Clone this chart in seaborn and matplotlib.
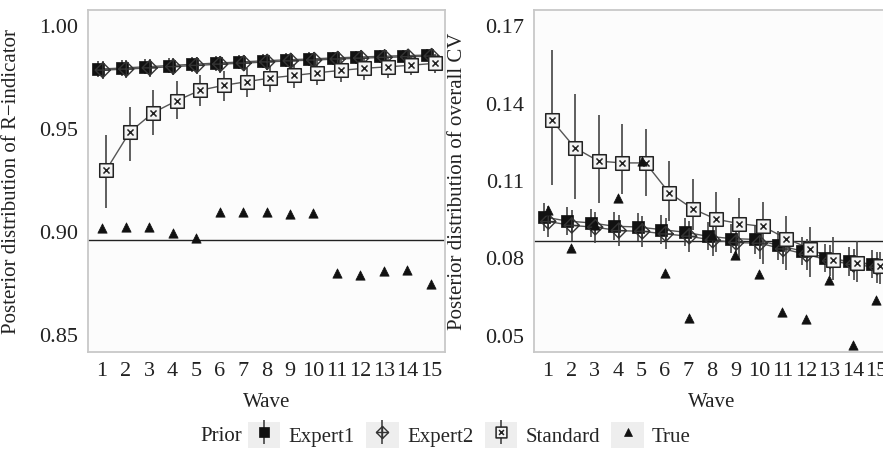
import numpy as np
import pandas as pd
import seaborn as sns
import matplotlib.pyplot as plt
from matplotlib.path import Path
from matplotlib.lines import Line2D
from matplotlib.patches import Patch
from matplotlib.legend_handler import HandlerTuple

# データ
waves = list(range(1, 16))
priors = ["Expert1", "Expert2", "Standard", "True"]

# R-indicator
r_expert1 = [0.9791, 0.9796, 0.9802, 0.9808, 0.9814, 0.9820, 0.9825, 0.9831, 0.9836, 0.9840, 0.9845, 0.9849, 0.9853, 0.9856, 0.9859]
r_expert1_lo = [0.9753, 0.9758, 0.9765, 0.9771, 0.9778, 0.9784, 0.9790, 0.9796, 0.9802, 0.9807, 0.9812, 0.9817, 0.9821, 0.9825, 0.9829]
r_expert1_hi = [0.9829, 0.9833, 0.9838, 0.9843, 0.9849, 0.9854, 0.9858, 0.9864, 0.9868, 0.9872, 0.9876, 0.9879, 0.9883, 0.9886, 0.9888]
r_expert2 = [0.9786, 0.9791, 0.9797, 0.9803, 0.9809, 0.9815, 0.9820, 0.9826, 0.9831, 0.9835, 0.9840, 0.9844, 0.9848, 0.9851, 0.9854]
r_expert2_lo = [0.9742, 0.9748, 0.9755, 0.9761, 0.9768, 0.9774, 0.9780, 0.9787, 0.9793, 0.9798, 0.9803, 0.9808, 0.9813, 0.9817, 0.9821]
r_expert2_hi = [0.9830, 0.9834, 0.9839, 0.9844, 0.9849, 0.9855, 0.9859, 0.9864, 0.9868, 0.9872, 0.9876, 0.9879, 0.9882, 0.9885, 0.9887]
r_standard = [0.9300, 0.9484, 0.9579, 0.9637, 0.9688, 0.9712, 0.9730, 0.9748, 0.9760, 0.9773, 0.9785, 0.9795, 0.9802, 0.9810, 0.9819]
r_standard_lo = [0.9117, 0.9346, 0.9470, 0.9547, 0.9610, 0.9637, 0.9657, 0.9680, 0.9697, 0.9712, 0.9727, 0.9740, 0.9750, 0.9760, 0.9772]
r_standard_hi = [0.9470, 0.9608, 0.9690, 0.9732, 0.9760, 0.9780, 0.9795, 0.9808, 0.9818, 0.9828, 0.9836, 0.9844, 0.9850, 0.9856, 0.9862]
r_true = [0.9020, 0.9026, 0.9026, 0.8995, 0.8972, 0.9096, 0.9096, 0.9096, 0.9086, 0.9090, 0.8800, 0.8792, 0.8808, 0.8815, 0.8745]
r_ref = 0.896

# overall CV
cv_expert1 = [0.0961, 0.0945, 0.0938, 0.0925, 0.0922, 0.0912, 0.0902, 0.0886, 0.0877, 0.0874, 0.0851, 0.0829, 0.0803, 0.0789, 0.0778]
cv_expert1_lo = [0.0906, 0.0890, 0.0883, 0.0870, 0.0867, 0.0857, 0.0847, 0.0831, 0.0822, 0.0819, 0.0796, 0.0774, 0.0748, 0.0734, 0.0723]
cv_expert1_hi = [0.1016, 0.1000, 0.0993, 0.0980, 0.0977, 0.0967, 0.0957, 0.0941, 0.0932, 0.0929, 0.0906, 0.0884, 0.0858, 0.0844, 0.0833]
cv_expert2 = [0.0943, 0.0928, 0.0921, 0.0908, 0.0905, 0.0895, 0.0886, 0.0871, 0.0862, 0.0859, 0.0837, 0.0816, 0.0791, 0.0777, 0.0766]
cv_expert2_lo = [0.0883, 0.0868, 0.0861, 0.0848, 0.0845, 0.0835, 0.0826, 0.0811, 0.0802, 0.0799, 0.0777, 0.0756, 0.0731, 0.0717, 0.0706]
cv_expert2_hi = [0.1003, 0.0988, 0.0981, 0.0968, 0.0965, 0.0955, 0.0946, 0.0931, 0.0922, 0.0919, 0.0897, 0.0876, 0.0851, 0.0837, 0.0826]
cv_standard = [0.1336, 0.1228, 0.1177, 0.1170, 0.1170, 0.1055, 0.0993, 0.0952, 0.0935, 0.0924, 0.0877, 0.0838, 0.0796, 0.0784, 0.0772]
cv_standard_lo = [0.1084, 0.1032, 0.1013, 0.1051, 0.1042, 0.0945, 0.0909, 0.0825, 0.0793, 0.0780, 0.0754, 0.0728, 0.0716, 0.0709, 0.0703]
cv_standard_hi = [0.1607, 0.1435, 0.1355, 0.1320, 0.1300, 0.1177, 0.1107, 0.1056, 0.1036, 0.1020, 0.0965, 0.0922, 0.0883, 0.0868, 0.0825]
cv_true = [0.0987, 0.0841, 0.0930, 0.1035, 0.1178, 0.0745, 0.0571, 0.0890, 0.0812, 0.0741, 0.0593, 0.0567, 0.0716, 0.0467, 0.0638]
cv_ref = 0.0869

# 横方向のずらし (position_dodge 相当)
dodge = {"Expert1": -0.17, "Expert2": 0.03, "Standard": 0.17, "True": 0.0}


def make_frame(series):
    rows = []
    for prior, (vals, lo, hi) in series.items():
        for w, v, l, h in zip(waves, vals, lo, hi):
            rows.append({"Wave": w, "Prior": prior, "value": v, "lo": l, "hi": h})
    df = pd.DataFrame(rows)
    df["xpos"] = df["Wave"] + df["Prior"].map(dodge)
    return df


df_r = make_frame({
    "Expert1": (r_expert1, r_expert1_lo, r_expert1_hi),
    "Expert2": (r_expert2, r_expert2_lo, r_expert2_hi),
    "Standard": (r_standard, r_standard_lo, r_standard_hi),
    "True": (r_true, r_true, r_true),
})
df_cv = make_frame({
    "Expert1": (cv_expert1, cv_expert1_lo, cv_expert1_hi),
    "Expert2": (cv_expert2, cv_expert2_lo, cv_expert2_hi),
    "Standard": (cv_standard, cv_standard_lo, cv_standard_hi),
    "True": (cv_true, cv_true, cv_true),
})

# マーカー (ggplot の shape 15, 9, 7, 17 に近い形)
diamond_plus = Path(
    [(0, 1), (1, 0), (0, -1), (-1, 0), (0, 1), (0, 1), (0, -1), (-1, 0), (1, 0)],
    [Path.MOVETO, Path.LINETO, Path.LINETO, Path.LINETO, Path.CLOSEPOLY,
     Path.MOVETO, Path.LINETO, Path.MOVETO, Path.LINETO],
)
square_cross = Path(
    [(-1, -1), (1, -1), (1, 1), (-1, 1), (-1, -1),
     (-0.45, -0.45), (0.45, 0.45), (-0.45, 0.45), (0.45, -0.45)],
    [Path.MOVETO, Path.LINETO, Path.LINETO, Path.LINETO, Path.CLOSEPOLY,
     Path.MOVETO, Path.LINETO, Path.MOVETO, Path.LINETO],
)
marker_style = {
    "Expert1": dict(marker="s", s=85, color="#111111", edgecolor="#111111", linewidth=0.5),
    "Expert2": dict(marker=diamond_plus, s=120, facecolor="none", edgecolor="#333333", linewidth=1.0),
    "Standard": dict(marker=square_cross, s=95, facecolor="#f4f4f4", edgecolor="#222222", linewidth=1.1),
    "True": dict(marker="^", s=45, color="#111111", edgecolor="#111111", linewidth=0.5),
}

sns.set_style("white")
plt.rcParams["font.family"] = ["Liberation Serif", "DejaVu Serif"]

fig = plt.figure(figsize=(8.83, 4.58), dpi=100)
ax1 = fig.add_axes([88 / 883, 106 / 458, 357 / 883, 342 / 458])
ax2 = fig.add_axes([533.5 / 883, 106 / 458, 357 / 883, 342 / 458])


def draw_panel(ax, df, ref, ylim, yticks, ylabel):
    ax.set_facecolor("#fcfcfc")
    ax.axhline(ref, color="#222222", lw=1.0, zorder=1)
    lines = df[df["Prior"] != "True"]
    sns.lineplot(data=lines, x="xpos", y="value", hue="Prior", units="Prior",
                 estimator=None, palette=["#555555"] * 3, lw=1.0,
                 legend=False, ax=ax, zorder=2)
    ax.vlines(lines["xpos"], lines["lo"], lines["hi"], color="#444444", lw=1.2, zorder=3)
    for prior in priors:
        sub = df[df["Prior"] == prior]
        sns.scatterplot(data=sub, x="xpos", y="value", ax=ax, zorder=4,
                        legend=False, **marker_style[prior])
    ax.set_xlim(0.4, 15.6)
    ax.set_ylim(*ylim)
    ax.set_xticks(waves)
    ax.set_xticklabels([str(w) for w in waves])
    ax.set_yticks(yticks)
    ax.set_yticklabels([f"{t:.2f}" for t in yticks])
    ax.tick_params(axis="both", labelsize=16, length=4, width=1,
                   color="#999999", labelcolor="#222222", pad=3)
    for sp in ax.spines.values():
        sp.set_color("#c8c8c8")
        sp.set_linewidth(1.3)
    ax.set_xlabel("Wave", fontsize=15, color="#222222")
    ax.set_ylabel(ylabel, fontsize=15, color="#222222")
    ax.xaxis.set_label_coords(0.5, -0.12)
    ax.yaxis.set_label_coords(-0.188, 0.5)


draw_panel(ax1, df_r, r_ref, (0.8417, 1.0078), [0.85, 0.90, 0.95, 1.00],
           "Posterior distribution of R\u2212indicator")
draw_panel(ax2, df_cv, cv_ref, (0.0438, 0.1762), [0.05, 0.08, 0.11, 0.14, 0.17],
           "Posterior distribution of overall CV")
ax2.yaxis.set_label_coords(-0.185, 0.5)

# 凡例
handles = []
for prior in priors:
    st = marker_style[prior]
    bg = Patch(facecolor="#eeeeee", edgecolor="none")
    parts = [bg]
    if prior != "True":
        parts.append(Line2D([], [], marker="|", markersize=17, color="#444444",
                            markeredgewidth=1.2, linestyle="none"))
    fc = st.get("facecolor", st.get("color"))
    parts.append(Line2D([], [], marker=st["marker"], linestyle="none",
                        markersize=np.sqrt(st["s"]) * 0.8, markerfacecolor=fc,
                        markeredgecolor=st["edgecolor"], markeredgewidth=st["linewidth"]))
    handles.append(tuple(parts))

fig.text(200 / 883, 0.046, "Prior", fontsize=15, va="center", ha="left", color="#222222")
fig.legend(handles, priors, handler_map={tuple: HandlerTuple(ndivide=1)},
           loc="center left", bbox_to_anchor=(248 / 883, 0.05), ncol=4,
           frameon=False, fontsize=15, handlelength=1.55, handleheight=1.55,
           handletextpad=0.4, columnspacing=0.55, borderaxespad=0, borderpad=0)

fig.savefig("out.png", dpi=100)
